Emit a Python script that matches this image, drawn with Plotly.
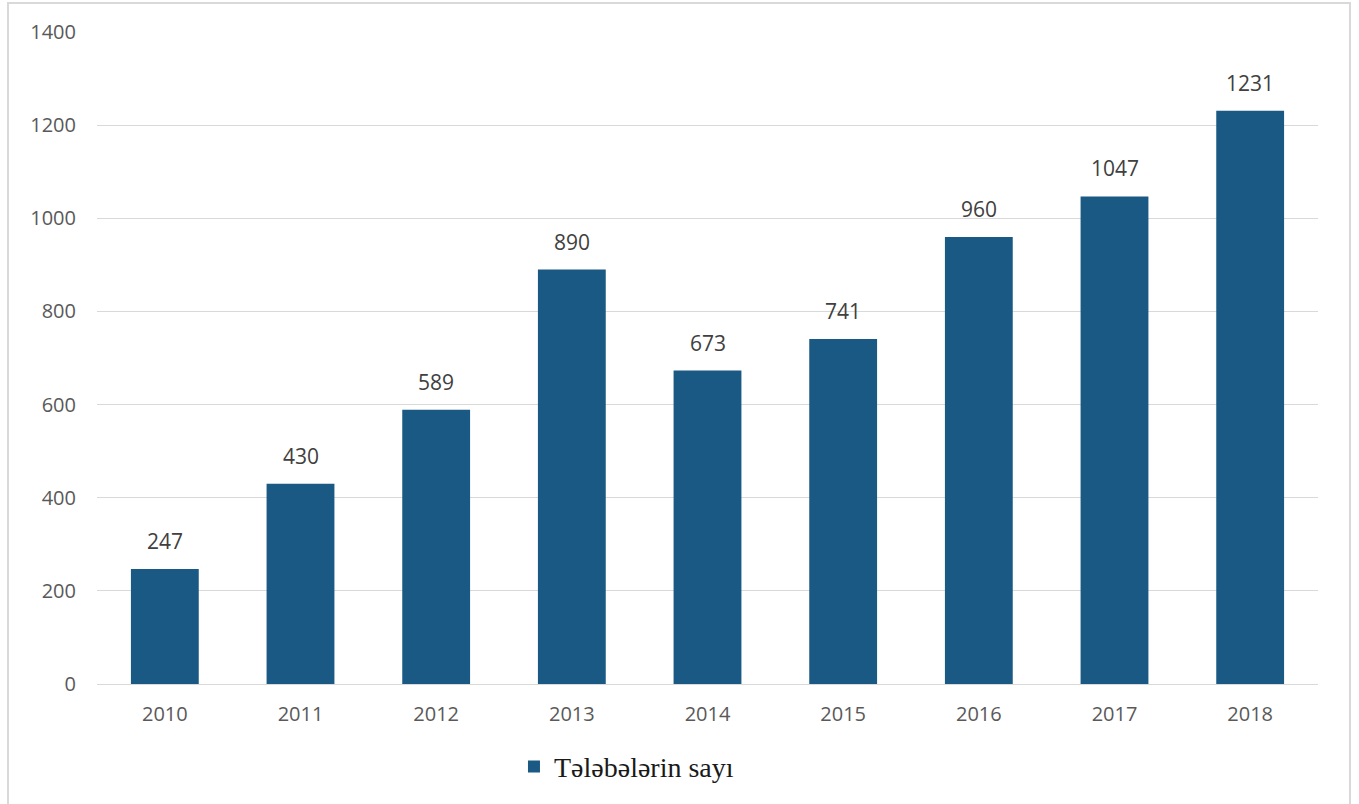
import plotly.graph_objects as go

years = ["2010", "2011", "2012", "2013", "2014", "2015", "2016", "2017", "2018"]
students = [247, 430, 589, 890, 673, 741, 960, 1047, 1231]
series_name = "Tələbələrin sayı"
y_ticks = [0, 200, 400, 600, 800, 1000, 1200, 1400]

sans = "Open Sans, Noto Sans, sans-serif"

fig = go.Figure()
fig.add_trace(go.Bar(
    x=years, y=students, name=series_name,
    marker=dict(color="#1a5983", line=dict(width=0)),
))

# data labels: on a category axis, annotations use the category index
annotations = [
    dict(x=i, y=v, xref="x", yref="y", text=str(v), showarrow=False,
         yanchor="bottom", yshift=12, font=dict(family=sans, size=21, color="#404040"))
    for i, v in enumerate(students)
]

fig.update_layout(
    width=1359, height=804,
    margin=dict(l=97, r=41, t=32, b=120),
    paper_bgcolor="white", plot_bgcolor="white",
    bargap=0.5,
    showlegend=True,
    legend=dict(orientation="h", x=0.3415, xanchor="left", y=-0.127, yanchor="middle",
                font=dict(family="Liberation Serif, Times New Roman, serif", size=28, color="#1a1a1a")),
    xaxis=dict(type="category", range=[-0.5, len(years) - 0.5],
               tickfont=dict(family=sans, size=20, color="#595959"),
               showline=True, linecolor="#d9d9d9", linewidth=1, ticks="", showgrid=False,
               ticklabelstandoff=12),
    yaxis=dict(range=[0, 1400], tickvals=y_ticks, tickfont=dict(family=sans, size=20, color="#595959"),
               showgrid=True, gridcolor="#d9d9d9", gridwidth=1, zeroline=False, ticks="",
               ticklabelstandoff=20),
    annotations=annotations,
    shapes=[dict(type="rect", xref="paper", yref="paper", x0=-0.0729, x1=1.0262, y0=-0.3, y1=1.0445,
                 line=dict(color="#d9d9d9", width=2), fillcolor="rgba(0,0,0,0)", layer="below")],
)

fig.write_html("out.html", config={"displayModeBar": False},
               post_script="document.body.style.margin='0';")
